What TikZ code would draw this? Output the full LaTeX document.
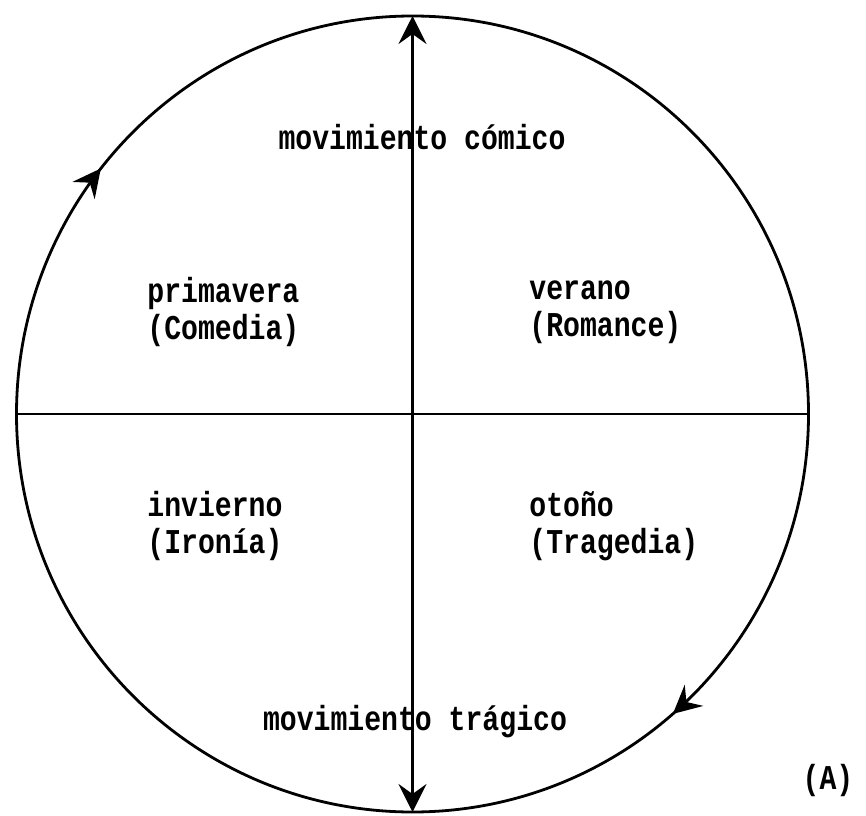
\documentclass[tikz,border=0pt]{standalone}
\usepackage{fontspec}
\setmonofont{Liberation Mono}
\usetikzlibrary{arrows.meta,decorations.markings}
\newcommand\tallline[1]{\scalebox{0.97}[1.2]{#1}}
\tikzset{
  season/.style={font=\ttfamily\bfseries\fontsize{29}{37}\selectfont, align=left, anchor=west, inner sep=0pt},
  movetext/.style={font=\ttfamily\bfseries\fontsize{29}{37}\selectfont, inner sep=0pt},
  barb/.tip={Stealth[length=28pt,width=28pt,inset=10pt]}
}
\begin{document}
\begin{tikzpicture}[x=1pt,y=1pt,line width=2.8pt]
    \useasboundingbox (0,0) rectangle (866,815);
    \coordinate (c) at (412.5,401);
    \path (c) ++(0,398) coordinate (top)
          (c) ++(0,-398) coordinate (bot)
          (c) ++(-396,0) coordinate (west)
          (c) ++(396,0) coordinate (east);
    % the cycle, run clockwise
    \draw[postaction={decorate},decoration={markings,
        mark=at position 0.394 with {\arrowreversed{barb}},
        mark=at position 0.864 with {\arrowreversed{barb}}}]
        (c) circle[x radius=396,y radius=398];
    \draw (west) -- (east);
    \draw[barb-barb] (top) -- (bot);
    \node[movetext] (comic) at (422,678) {\tallline{movimiento cómico}};
    \node[movetext] (tragic) at (415,93) {\tallline{movimiento trágico}};
    \node[season] (spring) at (146,503) {\tallline{primavera}\\\tallline{(Comedia)}};
    \node[season] (summer) at (528,503) {\tallline{verano}\\\tallline{(Romance)}};
    \node[season] (winter) at (146,289) {\tallline{invierno}\\\tallline{(Ironía)}};
    \node[season] (autumn) at (528,289) {\tallline{otoño}\\\tallline{(Tragedia)}};
    \node[movetext] (label) at (828,35) {\tallline{(A)}};
\end{tikzpicture}
\end{document}
